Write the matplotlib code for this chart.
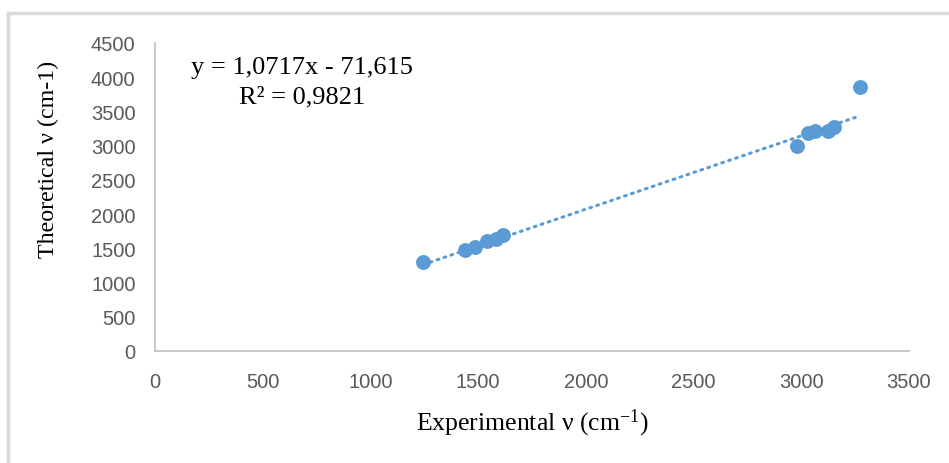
import matplotlib.pyplot as plt
from matplotlib.lines import Line2D
import numpy as np

plt.rcParams['mathtext.fontset'] = 'custom'
plt.rcParams['mathtext.rm'] = 'Liberation Serif'
plt.rcParams['mathtext.it'] = 'Liberation Serif:italic'

# experimental vs theoretical wavenumbers (cm-1)
exp_nu = [1245, 1440, 1485, 1540, 1585, 1615, 2980, 3030, 3065, 3125, 3150, 3273]
theo_nu = [1295, 1475, 1520, 1605, 1635, 1695, 2995, 3185, 3215, 3215, 3275, 3857]

# trendline given on the chart
slope = 1.0717
intercept = -71.615
eq_text = "y = 1,0717x - 71,615"
r2_text = "R² = 0,9821"

x_ticks = [0, 500, 1000, 1500, 2000, 2500, 3000, 3500]
y_ticks = [0, 500, 1000, 1500, 2000, 2500, 3000, 3500, 4000, 4500]

blue = '#5B9BD5'
grey = '#BFBFBF'

fig = plt.figure(figsize=(9.49, 4.64), dpi=100)
ax = fig.add_axes([155/949, 1-352/464, (909-155)/949, (352-44)/464])

ax.scatter(exp_nu, theo_nu, s=115, color=blue, zorder=3, linewidths=0)
xs = np.array([min(exp_nu), max(exp_nu)])
ax.plot(xs, slope*xs + intercept, color=blue, lw=2.2, linestyle=(0, (0.6, 1.8)),
        dash_capstyle='round', zorder=2)

ax.set_xlim(0, 3500)
ax.set_ylim(0, 4500)
ax.set_xticks(x_ticks)
ax.set_yticks(y_ticks)
ax.tick_params(length=0, labelsize=14.5, labelcolor='#595959')
ax.tick_params(axis='y', pad=14)
ax.tick_params(axis='x', pad=15)
for lab in ax.get_xticklabels() + ax.get_yticklabels():
    lab.set_family('Liberation Sans')
for s in ['top', 'right']:
    ax.spines[s].set_visible(False)
for s in ['left', 'bottom']:
    ax.spines[s].set_color(grey)
    ax.spines[s].set_linewidth(1.2)

fig.text(48/949, 1-159/464, "Theoretical ν (cm-1)", rotation=90, ha='center', va='center',
         family='Liberation Serif', fontsize=17.3)
fig.text(532/949, 1-423/464, "Experimental ν (cm$^{-1}$)", ha='center', va='center',
         family='Liberation Serif', fontsize=18.5)
fig.text(302/949, 1-68/464, eq_text, ha='center', va='center', family='Liberation Serif', fontsize=19)
fig.text(302/949, 1-97/464, r2_text, ha='center', va='center', family=['Liberation Serif', 'DejaVu Serif'], fontsize=19)

# chart area border (only top and left visible in the crop)
fig.add_artist(Line2D([8/949, 8/949], [0, 1-14/464], color='#D9D9D9', lw=2.5))
fig.add_artist(Line2D([8/949, 948/949], [1-14/464, 1-14/464], color='#D9D9D9', lw=2.5))

fig.savefig('out.png', dpi=100)
